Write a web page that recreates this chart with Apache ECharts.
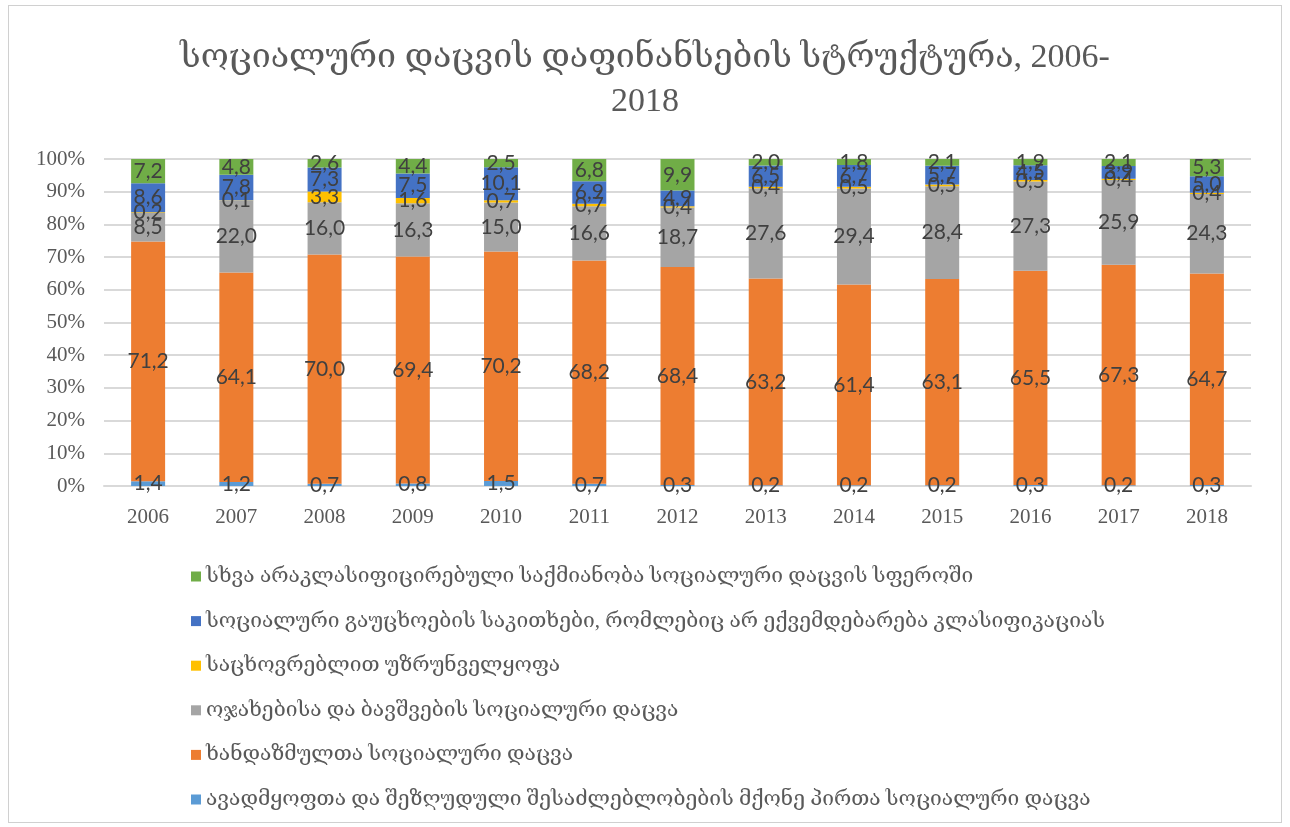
<!DOCTYPE html>
<html>
<head>
<meta charset="utf-8">
<script src="https://cdn.jsdelivr.net/npm/echarts@6/dist/echarts.min.js"></script>
<style>
  html, body { margin: 0; padding: 0; background: #ffffff; }
  #frame { position: absolute; left: 8px; top: 5px; width: 1274px; height: 818px; border: 1px solid #d0d0d0; box-sizing: border-box; }
  #chart { position: absolute; left: 0; top: 0; width: 1290px; height: 827px; }
</style>
</head>
<body>
<div id="frame"></div>
<div id="chart"></div>
<script>
// Years on the category axis
const years = ['2006','2007','2008','2009','2010','2011','2012','2013','2014','2015','2016','2017','2018'];

// Shares of social protection spending by function (per cent)
const sicknessDisability = [1.4, 1.2, 0.7, 0.8, 1.5, 0.7, 0.3, 0.2, 0.2, 0.2, 0.3, 0.2, 0.3];
const oldAge             = [71.2, 64.1, 70.0, 69.4, 70.2, 68.2, 68.4, 63.2, 61.4, 63.1, 65.5, 67.3, 64.7];
const familyChildren     = [8.5, 22.0, 16.0, 16.3, 15.0, 16.6, 18.7, 27.6, 29.4, 28.4, 27.3, 25.9, 24.3];
const housing            = [0.2, 0.1, 3.3, 1.6, 0.7, 0.7, 0.4, 0.4, 0.5, 0.5, 0.5, 0.4, 0.4];
const socialExclusion    = [8.6, 7.8, 7.3, 7.5, 10.1, 6.9, 4.9, 6.5, 6.7, 5.7, 4.5, 3.9, 5.0];
const otherSocial        = [7.2, 4.8, 2.6, 4.4, 2.5, 6.8, 9.9, 2.0, 1.8, 2.1, 1.9, 2.1, 5.3];

const seriesNames = [
  'ავადმყოფთა და შეზღუდული შესაძლებლობების მქონე პირთა სოციალური დაცვა',
  'ხანდაზმულთა სოციალური დაცვა',
  'ოჯახებისა და ბავშვების სოციალური დაცვა',
  'საცხოვრებლით უზრუნველყოფა',
  'სოციალური გაუცხოების საკითხები, რომლებიც არ ექვემდებარება კლასიფიკაციას',
  'სხვა არაკლასიფიცირებული საქმიანობა სოციალური დაცვის სფეროში'
];
const seriesValues = [sicknessDisability, oldAge, familyChildren, housing, socialExclusion, otherSocial];
const seriesColors = ['#5B9BD5', '#ED7D31', '#A5A5A5', '#FFC000', '#4472C4', '#70AD47'];

// 100% stacked: each column is scaled to its own total
const totals = years.map((_, i) => seriesValues.reduce((s, arr) => s + arr[i], 0));

const serifFont = "'Liberation Serif', 'DejaVu Serif', serif";
const labelFont = "Lato, 'Open Sans', sans-serif";

const series = seriesValues.map((vals, k) => ({
  name: seriesNames[k],
  type: 'bar',
  stack: 'share',
  barWidth: 34,
  itemStyle: { color: seriesColors[k] },
  label: {
    show: true,
    position: 'inside',
    color: '#404040',
    fontSize: 21,
    fontFamily: labelFont,
    formatter: p => vals[p.dataIndex].toFixed(1).replace('.', ',')
  },
  labelLayout: { hideOverlap: false },
  data: vals.map((v, i) => v / totals[i] * 100)
}));

const chart = echarts.init(document.getElementById('chart'), null, { renderer: 'canvas' });
chart.setOption({
  animation: false,
  backgroundColor: 'transparent',
  title: {
    text: 'სოციალური დაცვის დაფინანსების სტრუქტურა, 2006-\n2018',
    left: 'center',
    top: 31,
    textStyle: {
      fontFamily: serifFont,
      fontWeight: 'normal',
      fontSize: 34,
      color: '#595959',
      lineHeight: 44
    }
  },
  legend: {
    orient: 'vertical',
    left: 186,
    top: 561,
    itemGap: 23.6,
    itemWidth: 10,
    itemHeight: 10,
    icon: 'rect',
    data: seriesNames.slice().reverse(),
    textStyle: {
      fontFamily: serifFont,
      fontSize: 21,
      color: '#595959'
    }
  },
  grid: {
    left: 104,
    right: 39,
    top: 159,
    bottom: 341,
    containLabel: false
  },
  xAxis: {
    type: 'category',
    data: years,
    axisTick: { show: false },
    axisLine: { lineStyle: { color: '#D9D9D9', width: 2 } },
    axisLabel: {
      color: '#595959',
      fontFamily: serifFont,
      fontSize: 21,
      margin: 21
    }
  },
  yAxis: {
    type: 'value',
    min: 0,
    max: 100,
    interval: 10,
    axisLine: { show: false },
    axisTick: { show: false },
    splitLine: { lineStyle: { color: '#D9D9D9', width: 2 } },
    axisLabel: {
      color: '#595959',
      fontFamily: serifFont,
      fontSize: 21,
      margin: 19,
      formatter: '{value}%'
    }
  },
  series: series
});
</script>
</body>
</html>
